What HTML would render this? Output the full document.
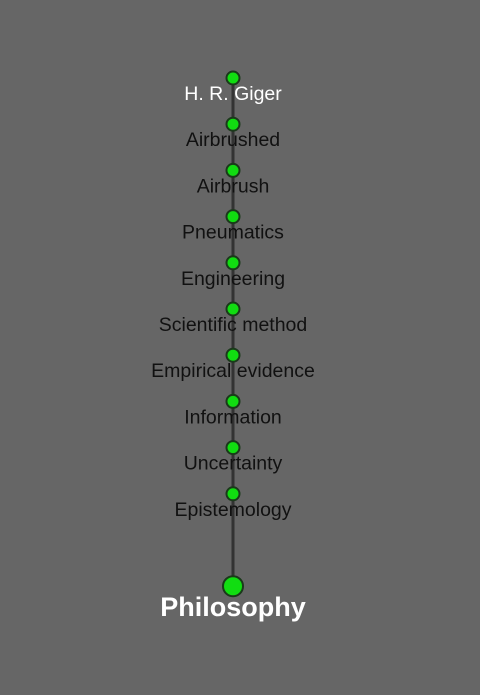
<!DOCTYPE html>
<html><head><meta charset="utf-8"><style>
html,body{margin:0;padding:0;background:#666666;}
svg{display:block;}
</style></head><body>
<svg id="chart" width="480" height="695" xmlns="http://www.w3.org/2000/svg"></svg>
<script>
const labels = ["H. R. Giger","Airbrushed","Airbrush","Pneumatics","Engineering","Scientific method","Empirical evidence","Information","Uncertainty","Epistemology"];
const steps = [0,1,2,3,4,5,6,7,8,9];
const finalLabel = "Philosophy";
const finalStep = 11;
const NS = "http://www.w3.org/2000/svg";
const svg = document.getElementById('chart');
const cx = 233;
function yPos(s){ return 78 + s*46.2; }
function mk(tag, attrs){ const e=document.createElementNS(NS,tag); for(const k in attrs) e.setAttribute(k,attrs[k]); svg.appendChild(e); return e; }
const line = mk('line',{x1:cx,y1:yPos(0),x2:cx,y2:yPos(finalStep)-8,stroke:'#333',"stroke-width":3});


steps.forEach((s,i)=>{
  const c = mk('circle',{cx:cx,cy:yPos(s),r:6.5,fill:'#11dd11',stroke:'#1a3a1a',"stroke-width":2});
  
  
  const t = mk('text',{x:cx,y:yPos(s)+22,"text-anchor":"middle","font-family":"Liberation Sans, sans-serif","font-size":19.5,fill:i===0?'#ffffff':'#111111'});
  t.textContent = labels[i];
  
  
});
const fc = mk('circle',{cx:cx,cy:yPos(finalStep),r:10,fill:'#11dd11',stroke:'#1a3a1a',"stroke-width":2});


const ft = mk('text',{x:cx,y:yPos(finalStep)+30,"text-anchor":"middle","font-family":"Liberation Sans, sans-serif","font-size":27,"font-weight":"bold",fill:'#ffffff'});
ft.textContent = finalLabel;


</script>
</body></html>
